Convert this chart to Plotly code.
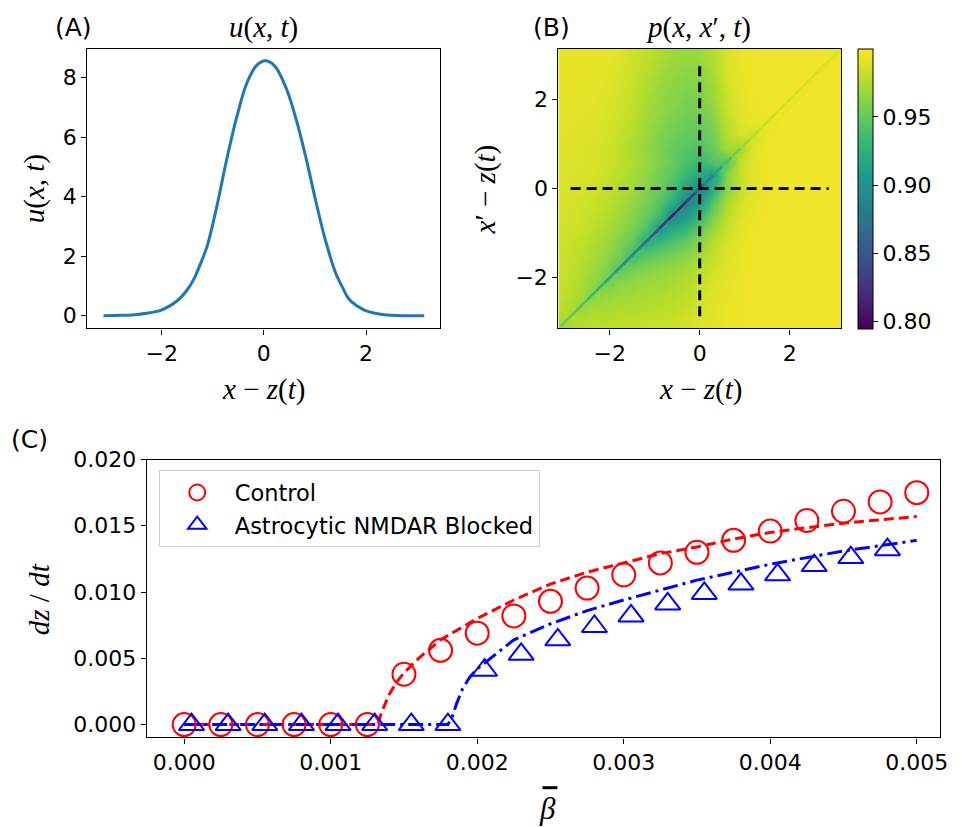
import plotly.graph_objects as go
from plotly.colors import sample_colorscale

# ---------------- data ----------------
# Panel A: bump profile u(x,t)
u_pos = [-3.14, -2.8, -2.53, -2.3, -2.02, -1.85, -1.69, -1.52, -1.37, -1.24, -1.11, -0.92,
         -0.73, -0.53, -0.34, -0.15, 0.03, 0.21, 0.43, 0.62, 0.82, 1.01, 1.2, 1.4, 1.55,
         1.66, 1.82, 1.98, 2.2, 2.49, 2.8, 3.14]
u_val = [0.0, 0.01, 0.03, 0.08, 0.18, 0.32, 0.51, 0.82, 1.23, 1.75, 2.34, 3.68,
         5.23, 6.68, 7.79, 8.4, 8.57, 8.4, 7.68, 6.68, 5.34, 3.9, 2.57, 1.46, 0.92,
         0.57, 0.33, 0.18, 0.07, 0.01, 0.0, 0.0]

# Panel B: p(x, x', t) background cloud on a coarse grid (rows: x' from -3 to 3, columns: x from -3 to 3)
grid = [-3.0, -2.7, -2.4, -2.1, -1.8, -1.5, -1.2, -0.9, -0.6, -0.3, 0.0,
        0.3, 0.6, 0.9, 1.2, 1.5, 1.8, 2.1, 2.4, 2.7, 3.0]
p_rows = [
    [0.972, 0.977, 0.978, 0.979, 0.980, 0.981, 0.982, 0.983, 0.984, 0.986, 0.989, 0.992, 0.994, 0.995, 0.996, 0.996, 0.996, 0.996, 0.996, 0.996, 0.996],
    [0.979, 0.968, 0.972, 0.973, 0.975, 0.976, 0.977, 0.978, 0.980, 0.983, 0.987, 0.991, 0.994, 0.995, 0.996, 0.996, 0.996, 0.996, 0.996, 0.996, 0.996],
    [0.981, 0.974, 0.962, 0.967, 0.969, 0.971, 0.973, 0.975, 0.977, 0.980, 0.985, 0.990, 0.993, 0.995, 0.996, 0.996, 0.996, 0.996, 0.996, 0.996, 0.996],
    [0.982, 0.976, 0.968, 0.955, 0.963, 0.966, 0.968, 0.970, 0.973, 0.976, 0.982, 0.988, 0.992, 0.995, 0.996, 0.996, 0.996, 0.996, 0.996, 0.996, 0.996],
    [0.983, 0.978, 0.971, 0.962, 0.945, 0.957, 0.961, 0.964, 0.967, 0.971, 0.978, 0.986, 0.991, 0.994, 0.996, 0.996, 0.996, 0.996, 0.996, 0.996, 0.996],
    [0.984, 0.980, 0.974, 0.966, 0.956, 0.935, 0.946, 0.953, 0.958, 0.964, 0.972, 0.982, 0.989, 0.994, 0.995, 0.996, 0.996, 0.996, 0.996, 0.996, 0.996],
    [0.985, 0.982, 0.977, 0.970, 0.962, 0.951, 0.920, 0.933, 0.941, 0.951, 0.963, 0.977, 0.987, 0.993, 0.995, 0.996, 0.996, 0.996, 0.996, 0.996, 0.996],
    [0.986, 0.984, 0.980, 0.974, 0.967, 0.958, 0.944, 0.905, 0.919, 0.931, 0.949, 0.969, 0.983, 0.992, 0.995, 0.996, 0.996, 0.996, 0.996, 0.996, 0.996],
    [0.987, 0.985, 0.982, 0.977, 0.971, 0.963, 0.952, 0.936, 0.890, 0.906, 0.931, 0.958, 0.978, 0.990, 0.994, 0.996, 0.996, 0.996, 0.996, 0.996, 0.996],
    [0.988, 0.986, 0.984, 0.980, 0.974, 0.967, 0.958, 0.946, 0.926, 0.885, 0.906, 0.946, 0.972, 0.987, 0.993, 0.995, 0.996, 0.996, 0.996, 0.996, 0.996],
    [0.989, 0.988, 0.986, 0.982, 0.977, 0.971, 0.963, 0.953, 0.939, 0.916, 0.890, 0.926, 0.962, 0.982, 0.992, 0.995, 0.996, 0.996, 0.996, 0.996, 0.996],
    [0.989, 0.988, 0.987, 0.984, 0.979, 0.973, 0.966, 0.957, 0.946, 0.931, 0.916, 0.910, 0.962, 0.983, 0.993, 0.995, 0.996, 0.996, 0.996, 0.996, 0.996],
    [0.990, 0.989, 0.988, 0.986, 0.981, 0.975, 0.968, 0.960, 0.951, 0.941, 0.934, 0.944, 0.945, 0.982, 0.992, 0.995, 0.996, 0.996, 0.996, 0.996, 0.996],
    [0.990, 0.989, 0.988, 0.986, 0.981, 0.974, 0.966, 0.958, 0.951, 0.945, 0.942, 0.952, 0.972, 0.970, 0.992, 0.995, 0.996, 0.996, 0.996, 0.996, 0.996],
    [0.991, 0.990, 0.989, 0.987, 0.983, 0.977, 0.969, 0.961, 0.955, 0.950, 0.948, 0.958, 0.977, 0.988, 0.985, 0.995, 0.996, 0.996, 0.996, 0.996, 0.996],
    [0.991, 0.991, 0.990, 0.988, 0.985, 0.979, 0.971, 0.964, 0.958, 0.954, 0.953, 0.962, 0.980, 0.990, 0.994, 0.992, 0.996, 0.996, 0.996, 0.996, 0.996],
    [0.992, 0.992, 0.991, 0.989, 0.986, 0.981, 0.973, 0.966, 0.961, 0.957, 0.957, 0.966, 0.983, 0.991, 0.995, 0.996, 0.994, 0.996, 0.996, 0.996, 0.996],
    [0.992, 0.992, 0.992, 0.990, 0.987, 0.982, 0.975, 0.968, 0.963, 0.960, 0.960, 0.969, 0.985, 0.992, 0.995, 0.996, 0.996, 0.994, 0.996, 0.996, 0.996],
    [0.993, 0.993, 0.992, 0.991, 0.988, 0.983, 0.977, 0.970, 0.965, 0.962, 0.963, 0.972, 0.987, 0.993, 0.995, 0.996, 0.996, 0.996, 0.994, 0.996, 0.996],
    [0.993, 0.993, 0.993, 0.992, 0.989, 0.985, 0.979, 0.972, 0.967, 0.965, 0.966, 0.975, 0.988, 0.994, 0.995, 0.996, 0.996, 0.996, 0.996, 0.994, 0.996],
    [0.993, 0.993, 0.993, 0.993, 0.990, 0.986, 0.981, 0.975, 0.970, 0.968, 0.969, 0.977, 0.989, 0.994, 0.995, 0.996, 0.996, 0.996, 0.996, 0.996, 0.995],
]
# thin ridge along x = x'
diag_pos = [-3.1, -2.9, -2.7, -2.5, -2.3, -2.1, -1.9, -1.7, -1.5, -1.3, -1.1, -0.9, -0.7, -0.5, -0.3, -0.1,
            0.1, 0.3, 0.5, 0.7, 0.9, 1.1, 1.3, 1.5, 1.7, 1.9, 2.1, 2.3, 2.5, 2.7, 2.9, 3.1]
diag_val = [0.955, 0.950, 0.945, 0.938, 0.930, 0.920, 0.910, 0.900, 0.890, 0.875, 0.860, 0.840, 0.815, 0.805, 0.820, 0.845,
            0.870, 0.900, 0.930, 0.950, 0.965, 0.975, 0.980, 0.983, 0.985, 0.986, 0.987, 0.988, 0.988, 0.989, 0.989, 0.990]
guide_span = [-2.87, 2.87]
guide_zero = [0.0, 0.0]
p_ticks = [0.80, 0.85, 0.90, 0.95]
p_min, p_max = 0.795, 1.0

# Panel C: wave speed vs beta-bar
beta_control = [0.0, 0.00025, 0.0005, 0.00075, 0.001, 0.00125, 0.0015, 0.00175, 0.002, 0.00225,
                0.0025, 0.00275, 0.003, 0.00325, 0.0035, 0.00375, 0.004, 0.00425, 0.0045, 0.00475, 0.005]
speed_control = [0.0, 0.0, 0.0, 0.0, 0.0, 0.0, 0.0038, 0.0056, 0.0069, 0.0082,
                 0.0093, 0.0103, 0.0113, 0.0122, 0.0130, 0.0139, 0.0146, 0.0154, 0.0161, 0.0168, 0.0175]
beta_blocked = [0.00005, 0.0003, 0.00055, 0.0008, 0.00105, 0.0013, 0.00155, 0.0018, 0.00205, 0.0023,
                0.00255, 0.0028, 0.00305, 0.0033, 0.00355, 0.0038, 0.00405, 0.0043, 0.00455, 0.0048]
speed_blocked = [0.0, 0.0, 0.0, 0.0, 0.0, 0.0, 0.0, 0.0, 0.0041, 0.0053,
                 0.0064, 0.0074, 0.0082, 0.0091, 0.0099, 0.0106, 0.0113, 0.0120, 0.0126, 0.0132]
fit_beta_control = [0.0, 0.00132, 0.00135, 0.0014, 0.00145, 0.0015, 0.0016, 0.00175, 0.002, 0.00225,
                    0.0025, 0.00275, 0.003, 0.00325, 0.0035, 0.00375, 0.004, 0.0045, 0.005]
fit_speed_control = [0.0, 0.0, 0.0010, 0.0023, 0.0032, 0.0039, 0.0050, 0.0064, 0.0080, 0.0094,
                     0.0106, 0.0115, 0.0122, 0.0129, 0.0134, 0.0140, 0.0145, 0.0152, 0.0157]
fit_beta_blocked = [0.0, 0.0018, 0.00183, 0.00186, 0.0019, 0.00195, 0.002, 0.0021, 0.00225,
                    0.0025, 0.00275, 0.003, 0.0035, 0.004, 0.0045, 0.005]
fit_speed_blocked = [0.0, 0.0, 0.0006, 0.0016, 0.0027, 0.0036, 0.0042, 0.0051, 0.0064,
                     0.0076, 0.0086, 0.0094, 0.0109, 0.0121, 0.0131, 0.0139]

# ---------------- layout helpers ----------------
W, H = 962, 827
OFF = 8  # page body margin


def fx(px):
    return (px - OFF) / W


def fy(py):
    return 1 - (py - OFF) / H


SANS = "DejaVu Sans"
SERIF = "Liberation Serif"
TICK = 22
MATH = 29

fig = go.Figure()

# Panel A
fig.add_trace(go.Scatter(x=u_pos, y=u_val, mode="lines", line=dict(color="#1f77b4", width=3, shape="spline"),
                         showlegend=False, xaxis="x", yaxis="y"))

# Panel B
fig.add_trace(go.Heatmap(x=grid, y=grid, z=p_rows, colorscale="Viridis", zmin=p_min, zmax=p_max,
                         zsmooth="best", xaxis="x2", yaxis="y2",
                         colorbar=dict(x=fx(865), xanchor="left", xpad=0, ypad=0,
                                       y=fy(37), yanchor="top", len=284 / H, lenmode="fraction",
                                       thickness=15, thicknessmode="pixels",
                                       outlinewidth=1, outlinecolor="black",
                                       ticks="outside", ticklen=5, tickwidth=1, tickcolor="black",
                                       tickvals=p_ticks, tickformat=".2f",
                                       tickfont=dict(family=SANS, size=TICK, color="black"))))
for i in range(len(diag_pos) - 1):
    mid = 0.5 * (diag_val[i] + diag_val[i + 1])
    col = sample_colorscale("Viridis", [(mid - p_min) / (p_max - p_min)])[0]
    fig.add_trace(go.Scatter(x=diag_pos[i:i + 2], y=diag_pos[i:i + 2], mode="lines",
                             line=dict(color=col, width=2.5), showlegend=False,
                             hoverinfo="skip", xaxis="x2", yaxis="y2"))
fig.add_trace(go.Scatter(x=guide_span, y=guide_zero, mode="lines",
                         line=dict(color="black", width=3, dash="10px,6px"),
                         showlegend=False, xaxis="x2", yaxis="y2"))
fig.add_trace(go.Scatter(x=guide_zero, y=guide_span, mode="lines",
                         line=dict(color="black", width=3, dash="10px,6px"),
                         showlegend=False, xaxis="x2", yaxis="y2"))

# Panel C
fig.add_trace(go.Scatter(x=fit_beta_control, y=fit_speed_control, mode="lines",
                         line=dict(color="red", width=3, dash="10px,5px"),
                         showlegend=False, xaxis="x3", yaxis="y3"))
fig.add_trace(go.Scatter(x=fit_beta_blocked, y=fit_speed_blocked, mode="lines",
                         line=dict(color="blue", width=3, dash="15px,5px,3px,5px"),
                         showlegend=False, xaxis="x3", yaxis="y3"))
fig.add_trace(go.Scatter(x=beta_control, y=speed_control, mode="markers", name="Control",
                         legendgroup="a",
                         marker=dict(symbol="circle-open", size=23, color="red", line=dict(width=2)),
                         xaxis="x3", yaxis="y3"))
fig.add_trace(go.Scatter(x=beta_blocked, y=speed_blocked, mode="markers", name="Astrocytic NMDAR Blocked",
                         legendgroup="b",
                         marker=dict(symbol="triangle-up-open", size=22, color="blue", line=dict(width=2)),
                         xaxis="x3", yaxis="y3"))

axis_common = dict(showline=True, mirror=True, linecolor="black", linewidth=1.2,
                   ticks="outside", ticklen=5, tickwidth=1.2, tickcolor="black",
                   showgrid=False, zeroline=False,
                   tickfont=dict(family=SANS, size=TICK, color="black"))

fig.update_layout(
    width=W, height=H,
    margin=dict(l=0, r=0, t=0, b=0),
    paper_bgcolor="white", plot_bgcolor="white",
    font=dict(family=SANS, size=TICK, color="black"),
    xaxis=dict(domain=[fx(88), fx(444)], range=[-3.456, 3.456], tickvals=[-2, 0, 2], anchor="y", **axis_common),
    yaxis=dict(domain=[fy(321), fy(37)], range=[-0.43, 8.98], tickvals=[0, 2, 4, 6, 8], anchor="x", **axis_common),
    xaxis2=dict(domain=[fx(563), fx(848)], range=[-3.1416, 3.1416], tickvals=[-2, 0, 2], anchor="y2", **axis_common),
    yaxis2=dict(domain=[fy(321), fy(37)], range=[-3.1416, 3.1416], tickvals=[-2, 0, 2], anchor="x2", **axis_common),
    xaxis3=dict(domain=[fx(148), fx(948)], range=[-0.000255, 0.00516],
                tickvals=[0, 0.001, 0.002, 0.003, 0.004, 0.005], tickformat=".3f", anchor="y3", **axis_common),
    yaxis3=dict(domain=[fy(736), fy(454)], range=[-0.00097, 0.020],
                tickvals=[0, 0.005, 0.01, 0.015, 0.02], tickformat=".3f", anchor="x3", **axis_common),
    legend=dict(x=fx(160), y=fy(465), xanchor="left", yanchor="top",
                bgcolor="rgba(255,255,255,0.8)", bordercolor="#cccccc", borderwidth=1,
                font=dict(family=SANS, size=22.5, color="black"), itemwidth=65,
                tracegroupgap=0),
)


def ann(text, px, py, size=MATH, family=SERIF, angle=0, xanchor="center"):
    fig.add_annotation(text=text, x=fx(px), y=fy(py), xref="paper", yref="paper",
                       showarrow=False, xanchor=xanchor, yanchor="middle", textangle=angle,
                       font=dict(family=family, size=size, color="black"))


ann("(A)", 53, 16, size=25, family=SANS, xanchor="left")
ann("(B)", 535, 16, size=25, family=SANS, xanchor="left")
ann("(C)", 9, 434, size=25, family=SANS, xanchor="left")
ann("<i>u</i>(<i>x</i>, <i>t</i>)", 266, 16)
ann("<i>p</i>(<i>x</i>, <i>x</i>′, <i>t</i>)", 704, 16)
ann("<i>x</i> − <i>z</i>(<i>t</i>)", 266, 383)
ann("<i>x</i> − <i>z</i>(<i>t</i>)", 706, 383)
ann("<i>u</i>(<i>x</i>, <i>t</i>)", 35, 179, angle=-90)
ann("<i>x</i>′ − <i>z</i>(<i>t</i>)", 490, 180, angle=-90)
ann("<i>dz</i> / <i>dt</i>", 40, 596, angle=-90)
ann("<i>β</i>", 552, 808, size=31)
# the bar of beta-bar
fig.add_shape(type="line", xref="paper", yref="paper", x0=fx(547), x1=fx(562), y0=fy(787), y1=fy(787),
              line=dict(color="black", width=3))

fig.write_html("out.html")
